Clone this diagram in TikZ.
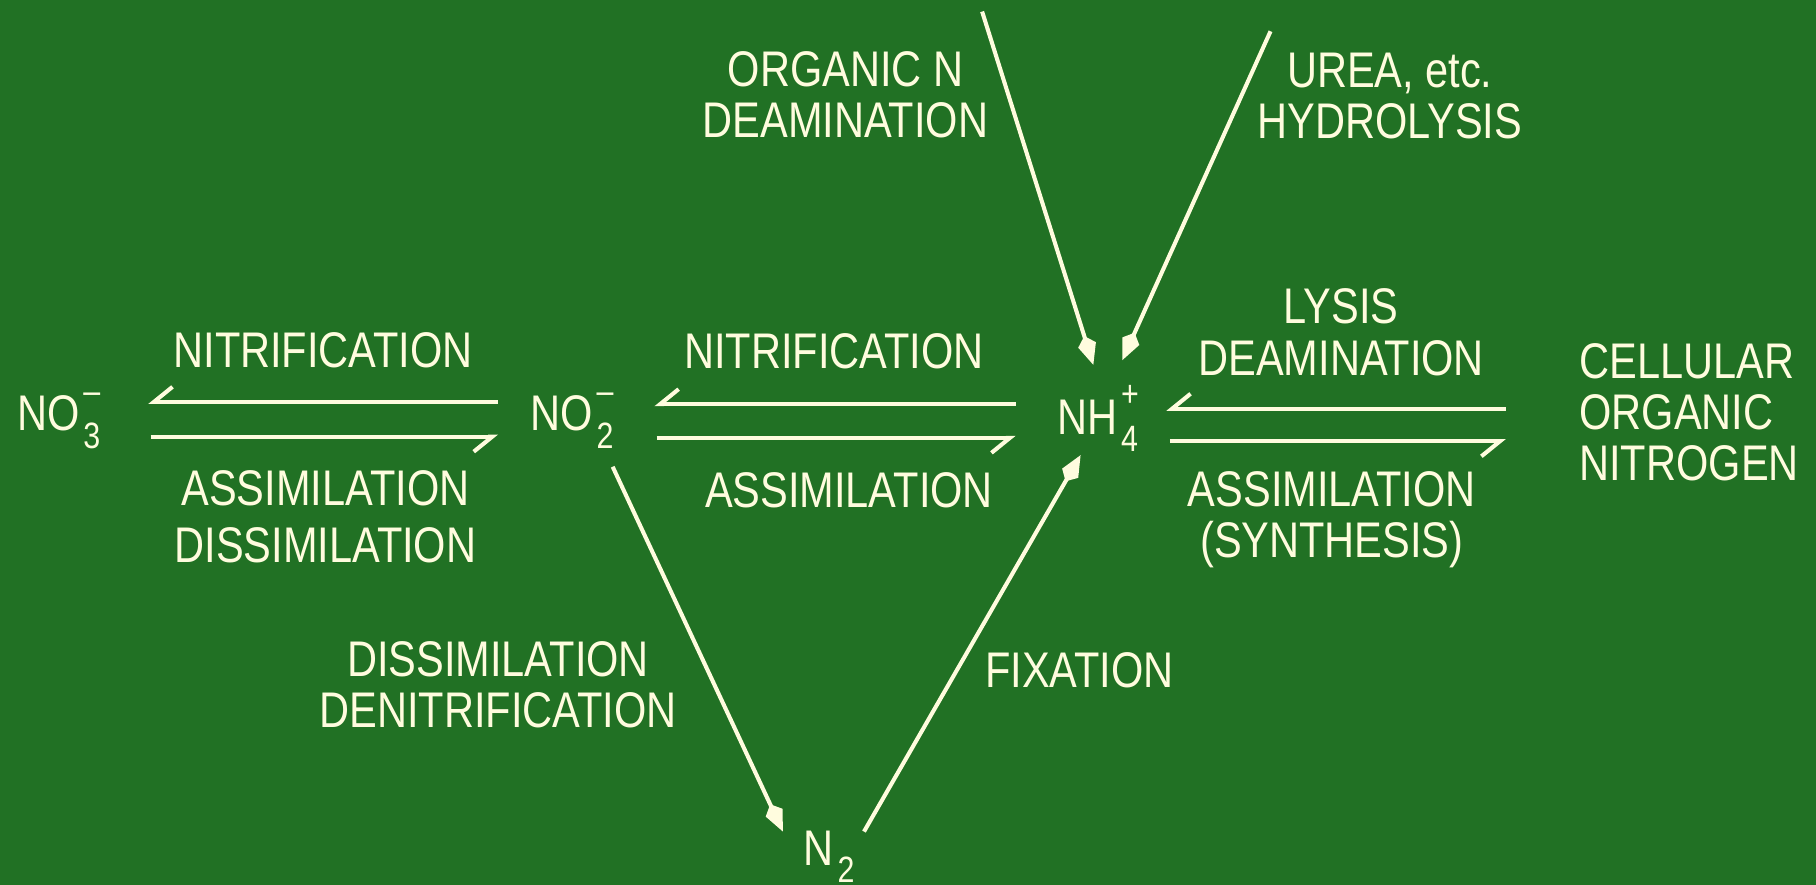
\documentclass[tikz,border=0pt]{standalone}
\usepackage{fontspec}
\setmainfont{Liberation Sans}[FakeStretch=0.83]
\usepackage{tikz}
\usetikzlibrary{arrows.meta,positioning,calc}
\definecolor{boardcolor}{RGB}{33,113,36}
\definecolor{chalkcolor}{RGB}{255,252,222}
% ion: symbol, stacked subscript and charge
\newcommand{\chemion}[3]{#1\kern1pt\rlap{\raisebox{6.8pt}{\fontsize{9pt}{9pt}\selectfont #3}}\raisebox{-4.3pt}{\fontsize{9pt}{9pt}\selectfont #2}}

\begin{document}
\begin{tikzpicture}[
    proc/.style={text=chalkcolor, align=center, inner sep=0pt, font=\fontsize{12.3pt}{12.6pt}\selectfont},
    species/.style={text=chalkcolor, anchor=base west, inner sep=0pt, font=\fontsize{12.3pt}{12.6pt}\selectfont},
    harpoon/.style={draw=chalkcolor, line width=1pt, -{Straight Barb[right,length=1.6mm,width=2.6mm]}},
    flow/.style={draw=chalkcolor, line width=1pt, -{Kite[length=2.6mm,width=1.6mm,inset=0.8mm]}}
]
    % Board
    \useasboundingbox (0,0) rectangle (15.68,7.64);
    \fill[boardcolor] (0,0) rectangle (15.68,7.64);

    % Nitrogen species
    \node[species] (no3) at (0.14,3.92) {\chemion{NO}{3}{--}};
    \node[species] (no2) at (4.57,3.92) {\chemion{NO}{2}{--}};
    \node[species] (nh4) at (9.12,3.89) {\chemion{NH}{4}{+}};
    \node[species] (n2) at (6.93,0.17) {\chemion{N}{2}{}};
    \node[proc, anchor=west, align=left] (cell) at (13.63,4.08) {CELLULAR\\ORGANIC\\NITROGEN};

    % Process labels
    \node[proc] (nitA) at (2.79,4.62) {NITRIFICATION};
    \node[proc] (assimA) at (2.81,3.18) {ASSIMILATION\\[1.5pt]DISSIMILATION};
    \node[proc] (nitB) at (7.20,4.61) {NITRIFICATION};
    \node[proc] (assimB) at (7.33,3.41) {ASSIMILATION};
    \node[proc] (lysis) at (11.58,4.77) {LYSIS\\DEAMINATION};
    \node[proc] (assimC) at (11.50,3.15) {ASSIMILATION\\(SYNTHESIS)};
    \node[proc] (organic) at (7.30,6.82) {ORGANIC N\\DEAMINATION};
    \node[proc] (urea) at (12.00,6.81) {UREA, etc.\\HYDROLYSIS};
    \node[proc] (denit) at (4.30,1.73) {DISSIMILATION\\DENITRIFICATION};
    \node[proc] (fix) at (9.32,1.85) {FIXATION};

    % Sources feeding ammonium
    \coordinate (orgtop) at (8.48,7.54);
    \coordinate (ureatop) at (10.97,7.37);

    % Arrows
    \draw[harpoon] ([shift={(-0.27,0.25)}]no2.base west) -- ([shift={(1.14,0.25)}]no3.base west);
    \draw[harpoon] ([shift={(1.16,-0.05)}]no3.base west) -- ([shift={(-0.27,-0.05)}]no2.base west);
    \draw[harpoon] ([shift={(-0.35,0.26)}]nh4.base west) -- ([shift={(1.08,0.23)}]no2.base west);
    \draw[harpoon] ([shift={(1.10,-0.06)}]no2.base west) -- ([shift={(-0.35,-0.03)}]nh4.base west);
    \draw[harpoon] ([shift={(-0.63,0.03)}]cell.west) -- ([shift={(0.95,0.22)}]nh4.base west);
    \draw[harpoon] ([shift={(0.98,-0.06)}]nh4.base west) -- ([shift={(-0.63,-0.25)}]cell.west);
    \draw[flow] (orgtop) -- ([shift={(0.32,0.60)}]nh4.base west);
    \draw[flow] (ureatop) -- ([shift={(0.57,0.64)}]nh4.base west);
    \draw[flow] ([shift={(0.72,-0.31)}]no2.base west) -- ([shift={(-0.17,0.29)}]n2.base west);
    \draw[flow] ([shift={(0.53,0.29)}]n2.base west) -- ([shift={(0.21,-0.18)}]nh4.base west);
\end{tikzpicture}
\end{document}
